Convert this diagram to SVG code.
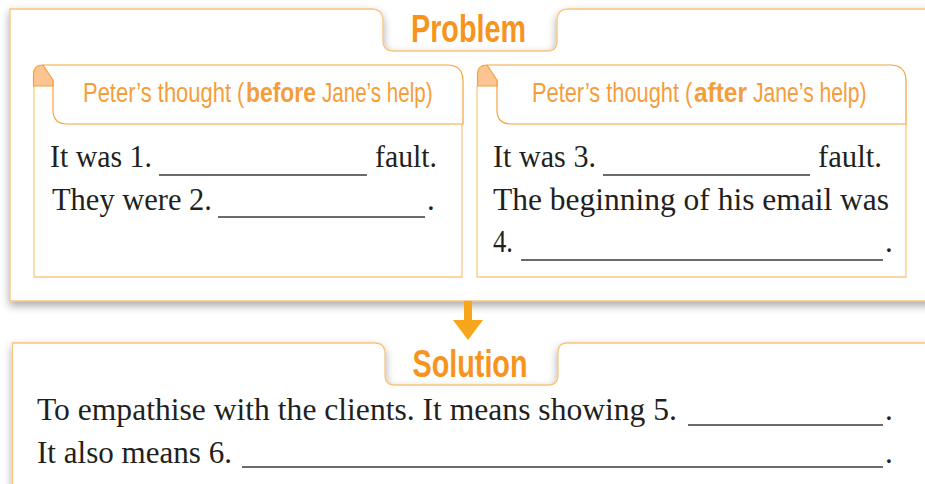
<svg xmlns="http://www.w3.org/2000/svg" width="925" height="484" viewBox="0 0 925 484">
  <style>
    .panel { fill: #ffffff; stroke: #f8c47c; stroke-width: 1.3; }
    .body { fill: none; stroke: #f9c887; stroke-width: 1.3; }
    .head { fill: #ffffff; stroke: #f6a43a; stroke-width: 1.2; }
    .fold { fill: #fcc490; stroke: #f4a03c; stroke-width: 1.2; stroke-linejoin: round; }
    .title { font-family: "Liberation Sans", Arial, sans-serif; font-weight: bold; font-size: 38px; fill: #f7941d; }
    .htext { font-family: "Liberation Sans", Arial, sans-serif; font-size: 28px; fill: #f59d3a; }
    .b { font-weight: bold; }
    .txt { font-family: "Liberation Serif", "Times New Roman", serif; font-size: 31px; fill: #231f20; }
    .blank { stroke: #3a3a3a; stroke-width: 1.3; }
    .arrow { fill: #f7a61c; }
  </style>
  <defs>
    <filter id="shadow" x="-5%" y="-10%" width="110%" height="130%">
      <feDropShadow dx="0" dy="4" stdDeviation="4.5" flood-color="#000000" flood-opacity="0.34"/>
    </filter>
  </defs>

  <rect width="925" height="484" fill="#ffffff"/>

  <!-- Problem panel with title notch -->
  <g id="problem">
    <path class="panel" filter="url(#shadow)" d="M10,9 H372 Q382,9 383,19 V41 Q383,51 394,51 H547 Q557,51 557,41 V19 Q558,9 568,9 H940 V301 H10 Z"/>
    <text class="title" x="411" y="42" textLength="115" lengthAdjust="spacingAndGlyphs">Problem</text>
  </g>

  <!-- Left card: before -->
  <g id="before">
    <path class="body" d="M34,86 V277 H462 V124"/>
    <path class="head" d="M43,65 H447 Q463,65 463,81 V124 H67 Q53,124 53,110 V80"/>
    <path class="fold" d="M33.5,86 V74 Q33.5,65 43,65 L53,80 V86 Z"/>
    <text class="htext" transform="translate(83,102) scale(0.784,1)">Peter’s thought (</text>
    <text class="htext b" transform="translate(246,102) scale(0.818,1)">before</text>
    <text class="htext" transform="translate(322,102) scale(0.735,1)">Jane’s help)</text>
    <text class="txt" x="50" y="167" textLength="102" lengthAdjust="spacingAndGlyphs">It was 1.</text>
    <line class="blank" x1="159" y1="175" x2="367" y2="175"/>
    <text class="txt" x="375" y="167" textLength="62" lengthAdjust="spacingAndGlyphs">fault.</text>
    <text class="txt" x="52" y="210" textLength="160" lengthAdjust="spacingAndGlyphs">They were 2.</text>
    <line class="blank" x1="218" y1="217" x2="425" y2="217"/>
    <text class="txt" x="427" y="210">.</text>
  </g>

  <!-- Right card: after -->
  <g id="after">
    <path class="body" d="M477,86 V277 H906 V124"/>
    <path class="head" d="M487,65 H890 Q906,65 906,81 V124 H511 Q497,124 497,110 V80"/>
    <path class="fold" d="M477.5,86 V74 Q477.5,65 487,65 L497,80 V86 Z"/>
    <text class="htext" transform="translate(532,102) scale(0.779,1)">Peter’s thought (</text>
    <text class="htext b" transform="translate(694,102) scale(0.873,1)">after</text>
    <text class="htext" transform="translate(753,102) scale(0.755,1)">Jane’s help)</text>
    <text class="txt" x="493" y="167" textLength="103" lengthAdjust="spacingAndGlyphs">It was 3.</text>
    <line class="blank" x1="603" y1="175" x2="810" y2="175"/>
    <text class="txt" x="818" y="167" textLength="64" lengthAdjust="spacingAndGlyphs">fault.</text>
    <text class="txt" x="493" y="210" textLength="396" lengthAdjust="spacingAndGlyphs">The beginning of his email was</text>
    <text class="txt" x="493" y="252" textLength="20" lengthAdjust="spacingAndGlyphs">4.</text>
    <line class="blank" x1="521" y1="260" x2="883" y2="260"/>
    <text class="txt" x="885" y="252">.</text>
  </g>

  <!-- Connector: problem to solution -->
  <g id="connectors">
    <rect class="arrow" x="464" y="301" width="8" height="20"/>
    <polygon class="arrow" points="453,320 483,320 468,340"/>
  </g>

  <!-- Solution panel with title notch -->
  <g id="solution">
    <path class="panel" filter="url(#shadow)" d="M12.5,343 H375 Q384,343 385,352 V375 Q385,385 395,385 H548 Q558,385 558,375 V352 Q558,343 567,343 H940 V510 H12.5 Z"/>
    <text class="title" x="412.5" y="377" textLength="115" lengthAdjust="spacingAndGlyphs">Solution</text>
    <text class="txt" x="37" y="420" textLength="640" lengthAdjust="spacingAndGlyphs">To empathise with the clients. It means showing 5.</text>
    <line class="blank" x1="688" y1="425" x2="883" y2="425"/>
    <text class="txt" x="885" y="420">.</text>
    <text class="txt" x="37" y="463" textLength="195" lengthAdjust="spacingAndGlyphs">It also means 6.</text>
    <line class="blank" x1="242" y1="467" x2="883" y2="467"/>
    <text class="txt" x="885" y="463">.</text>
  </g>
</svg>
